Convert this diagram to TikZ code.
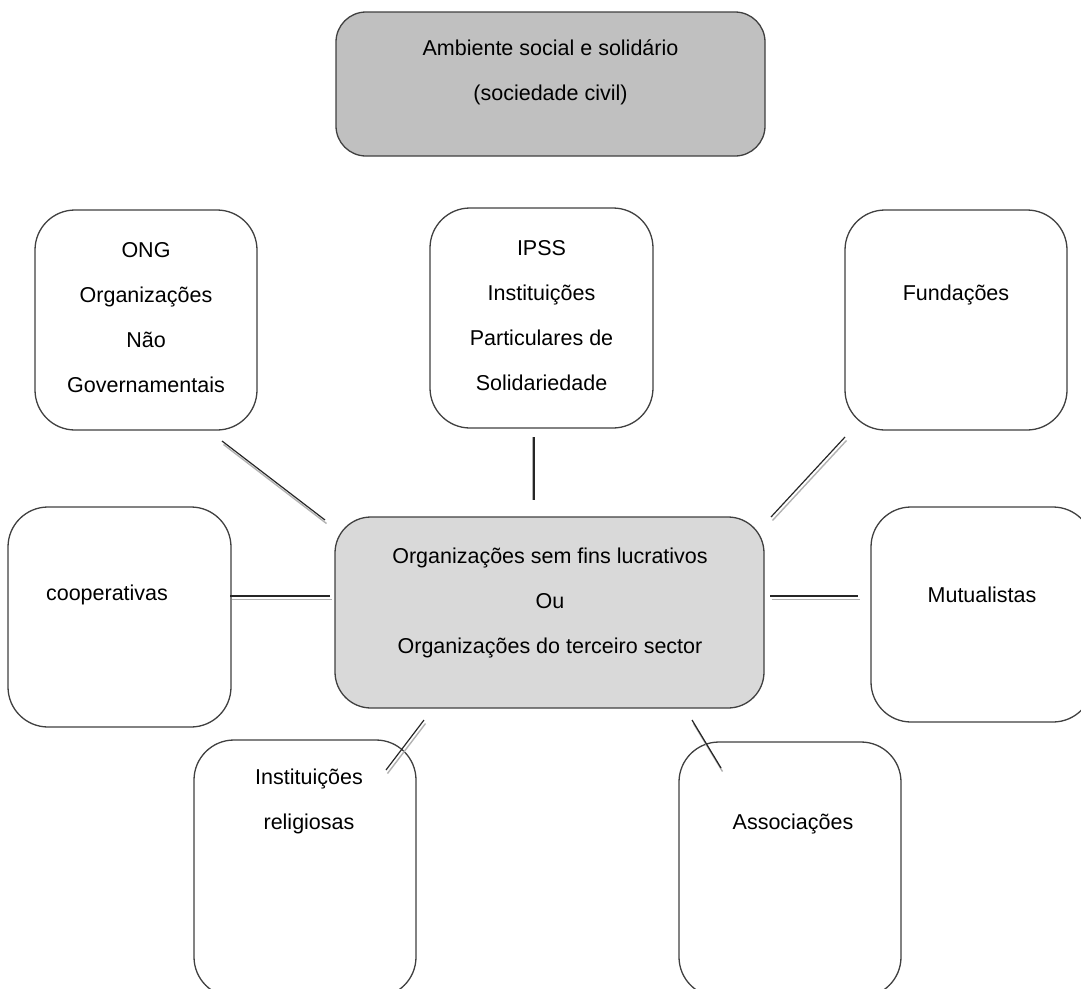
\documentclass[tikz,border=0pt]{standalone}
\usepackage{fontspec}
\setmainfont{Liberation Sans}
\begin{document}
\begin{tikzpicture}[x=1pt,y=-1pt,
  box/.style={draw=black!75, line width=1.3pt, rounded corners=40pt, inner sep=0pt, outer sep=0pt, fill=white},
  txt/.style={align=center, inner sep=0pt, font=\fontsize{21.5}{45}\selectfont},
  conn/.style={draw=black!85, line width=1.2pt},
  shade/.style={draw=black!30, line width=1.4pt}]
\useasboundingbox (0,0) rectangle (1081,988);
\clip (0,0) rectangle (1081,988);
% boxes
\node[box, fill={rgb,255:red,192;green,192;blue,192}, rounded corners=30pt, minimum width=429pt, minimum height=144pt] (top) at (550.5,84) {};
\node[box, minimum width=222pt, minimum height=220pt] (ong) at (146,320) {};
\node[box, minimum width=223pt, minimum height=220pt] (ipss) at (541.5,318) {};
\node[box, minimum width=222pt, minimum height=220pt] (fund) at (956,320) {};
\node[box, minimum width=223pt, minimum height=220pt] (coop) at (119.5,617) {};
\node[box, fill={rgb,255:red,217;green,217;blue,217}, rounded corners=36pt, minimum width=429pt, minimum height=191pt] (center) at (549.5,612.5) {};
\node[box, minimum width=222pt, minimum height=215pt] (mutual) at (982,614.5) {};
\node[box, minimum width=222pt, minimum height=257pt] (relig) at (305,868.5) {};
\node[box, minimum width=222pt, minimum height=255pt] (assoc) at (790,869.5) {};
% texts
\node[txt] (ttop) at (550.5,72) {Ambiente social e solidário\\(sociedade civil)};
\node[txt] (tong) at (146,317.5) {ONG\\Organizações\\Não\\Governamentais};
\node[txt] (tipss) at (541.5,315.5) {IPSS\\Instituições\\Particulares de\\Solidariedade};
\node[txt] (tfund) at (956,295) {Fundações};
\node[txt] (tcoop) at (107,595) {cooperativas};
\node[txt] (tcenter) at (550,603) {Organizações sem fins lucrativos\\Ou\\Organizações do terceiro sector};
\node[txt] (tmutual) at (982,595) {Mutualistas};
\node[txt] (trelig) at (309,801.5) {Instituições\\religiosas};
\node[txt] (tassoc) at (793,824) {Associações};
% connector end points
\coordinate (a1) at (222,441); \coordinate (a2) at (325,520);
\coordinate (b1) at (534,437); \coordinate (b2) at (534,500);
\coordinate (c1) at (845,437); \coordinate (c2) at (771,517);
\coordinate (d1) at (230,596); \coordinate (d2) at (330,596);
\coordinate (e1) at (770,596); \coordinate (e2) at (858,596);
\coordinate (f1) at (424,720); \coordinate (f2) at (386,770);
\coordinate (g1) at (692,720); \coordinate (g2) at (721,768);
% connectors with offset shadow
\foreach \p/\q in {a1/a2,c1/c2,d1/d2,e1/e2,f1/f2,g1/g2}{
  \draw[shade] ([shift={(1.5,3.5)}]\p) -- ([shift={(1.5,3.5)}]\q);
  \draw[conn] (\p) -- (\q);
}
\draw[shade] ([shift={(-1,0)}]b1) -- ([shift={(-1,0)}]b2);
\draw[conn] (b1) -- (b2);
\end{tikzpicture}
\end{document}
